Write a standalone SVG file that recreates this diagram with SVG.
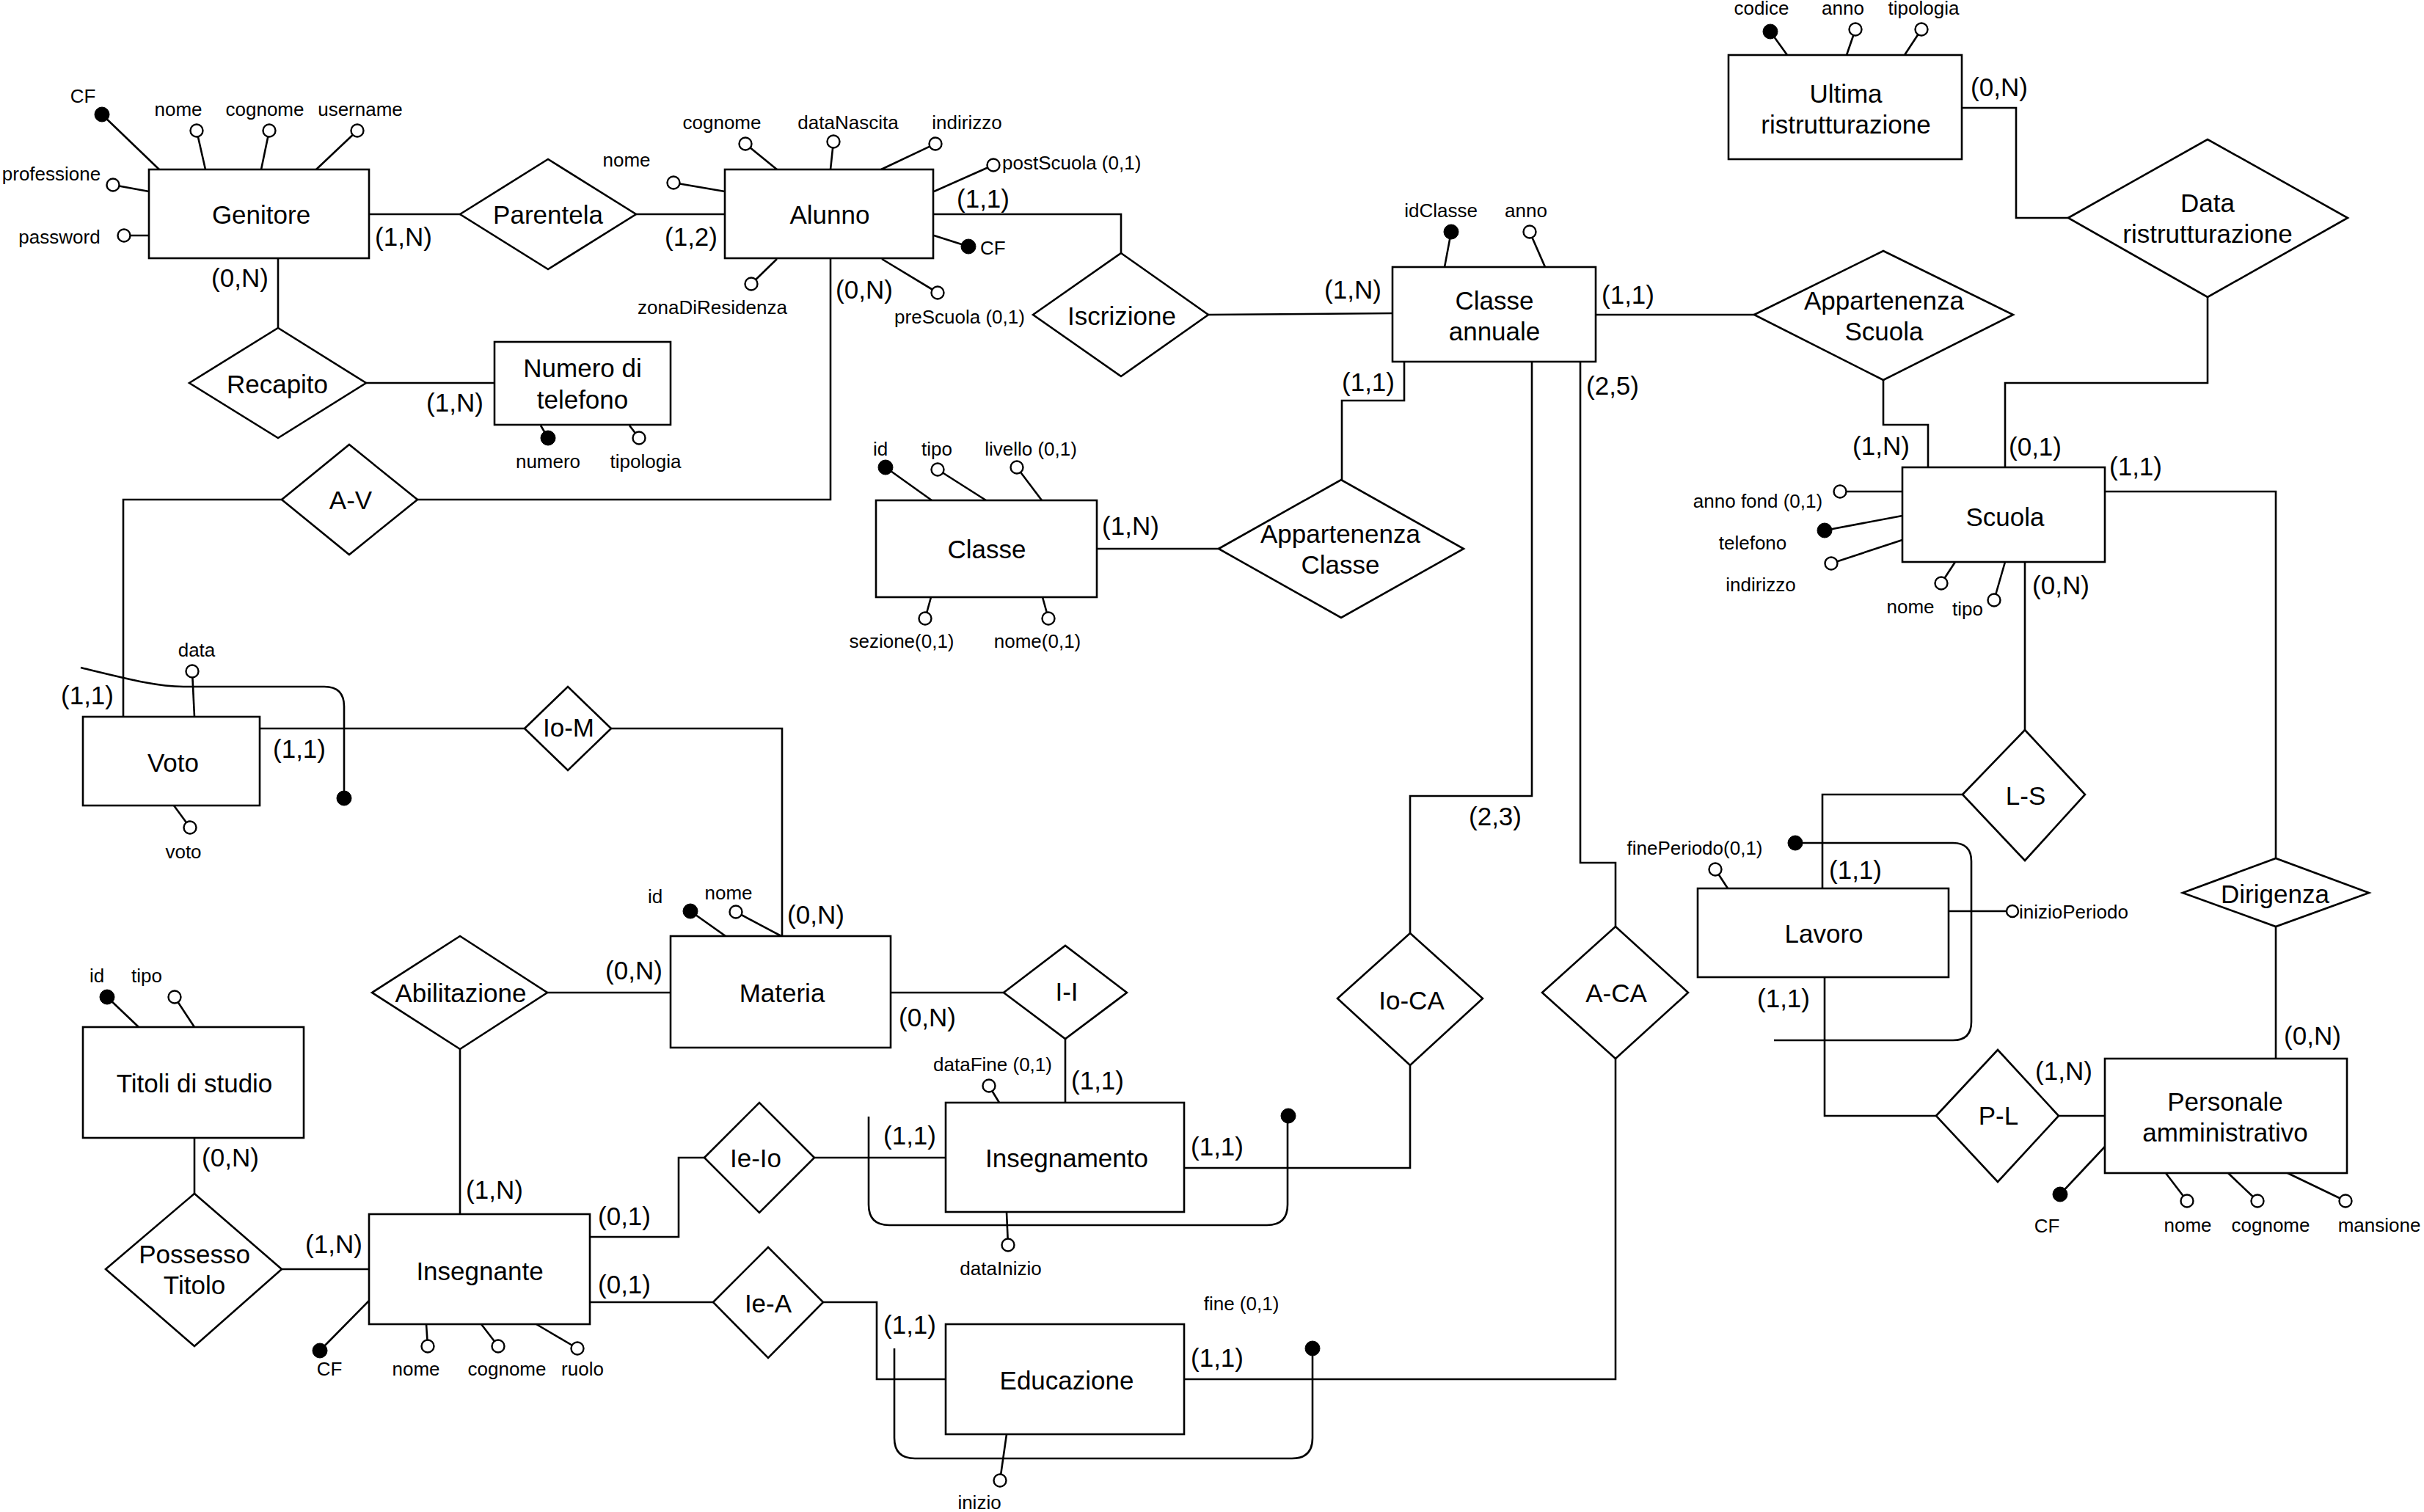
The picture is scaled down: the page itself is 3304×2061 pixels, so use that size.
<svg xmlns="http://www.w3.org/2000/svg" width="3304" height="2061" viewBox="0 0 3304 2061">
<style>
rect.e{fill:#fff;stroke:#000;stroke-width:2.6}
polygon.r{fill:#fff;stroke:#000;stroke-width:2.6}
.l{fill:none;stroke:#000;stroke-width:2.6}
.a{fill:#fff;stroke:#000;stroke-width:2.4}
.k{fill:#000;stroke:#000;stroke-width:1}
text{font-family:"Liberation Sans",Arial,Helvetica,sans-serif;fill:#000;dominant-baseline:central}
.t{font-size:35px;text-anchor:middle}
.s{font-size:26px;text-anchor:middle}
.st{font-size:26px;text-anchor:start}
</style>
<rect width="3304" height="2061" fill="#fff"/>

<g id="connectors">
<polyline class="l" points="503,292 627,292"/>
<polyline class="l" points="867,292 988,292"/>
<polyline class="l" points="379,352 379,447"/>
<polyline class="l" points="499,522 674,522"/>
<polyline class="l" points="1272,292 1528,292 1528,345"/>
<polyline class="l" points="1647,429 1898,427"/>
<polyline class="l" points="2175,429 2391,429"/>
<polyline class="l" points="2567,518 2567,579 2628,579 2628,637"/>
<polyline class="l" points="2674,147 2748,147 2748,297 2819,297"/>
<polyline class="l" points="3009,405 3009,522 2733,522 2733,637"/>
<polyline class="l" points="2869,670 3102,670 3102,1170"/>
<polyline class="l" points="3102,1263 3102,1443"/>
<polyline class="l" points="2760,766 2760,995"/>
<polyline class="l" points="2675,1083 2484,1083 2484,1211"/>
<polyline class="l" points="2487,1332 2487,1521 2639,1521"/>
<polyline class="l" points="2806,1521 2869,1521"/>
<polyline class="l" points="1914,493 1914,546 1829,546 1829,654"/>
<polyline class="l" points="1661,748 1495,748"/>
<polyline class="l" points="2088,493 2088,1085 1922,1085 1922,1272"/>
<polyline class="l" points="2154,493 2154,1176 2202,1176 2202,1263"/>
<polyline class="l" points="1922,1452 1922,1592 1614,1592"/>
<polyline class="l" points="2202,1443 2202,1880 1614,1880"/>
<polyline class="l" points="1132,352 1132,681 569,681"/>
<polyline class="l" points="384,681 168,681 168,977"/>
<polyline class="l" points="354,993 715,993"/>
<polyline class="l" points="833,993 1066,993 1066,1276"/>
<polyline class="l" points="746,1353 914,1353"/>
<polyline class="l" points="627,1430 627,1655"/>
<polyline class="l" points="1214,1353 1368,1353"/>
<polyline class="l" points="1452,1416 1452,1503"/>
<polyline class="l" points="265,1551 265,1627"/>
<polyline class="l" points="384,1730 503,1730"/>
<polyline class="l" points="804,1686 925,1686 925,1578 960,1578"/>
<polyline class="l" points="1110,1578 1289,1578"/>
<polyline class="l" points="804,1775 972,1775"/>
<polyline class="l" points="1122,1775 1195,1775 1195,1880 1289,1880"/>
</g>

<g id="cardinalities">
<text class="t" x="550" y="322">(1,N)</text>
<text class="t" x="327" y="378">(0,N)</text>
<text class="t" x="942" y="322">(1,2)</text>
<text class="t" x="1340" y="270">(1,1)</text>
<text class="t" x="1178" y="394">(0,N)</text>
<text class="t" x="620" y="548">(1,N)</text>
<text class="t" x="1844" y="394">(1,N)</text>
<text class="t" x="2219" y="401">(1,1)</text>
<text class="t" x="1865" y="520">(1,1)</text>
<text class="t" x="2198" y="525">(2,5)</text>
<text class="t" x="2725" y="118">(0,N)</text>
<text class="t" x="2564" y="607">(1,N)</text>
<text class="t" x="2774" y="608">(0,1)</text>
<text class="t" x="2911" y="635">(1,1)</text>
<text class="t" x="2809" y="797">(0,N)</text>
<text class="t" x="1541" y="716">(1,N)</text>
<text class="t" x="2038" y="1112">(2,3)</text>
<text class="t" x="119" y="947">(1,1)</text>
<text class="t" x="408" y="1020">(1,1)</text>
<text class="t" x="1112" y="1246">(0,N)</text>
<text class="t" x="864" y="1322">(0,N)</text>
<text class="t" x="1264" y="1386">(0,N)</text>
<text class="t" x="1496" y="1472">(1,1)</text>
<text class="t" x="2529" y="1185">(1,1)</text>
<text class="t" x="2431" y="1360">(1,1)</text>
<text class="t" x="2813" y="1459">(1,N)</text>
<text class="t" x="3152" y="1411">(0,N)</text>
<text class="t" x="314" y="1577">(0,N)</text>
<text class="t" x="674" y="1621">(1,N)</text>
<text class="t" x="455" y="1695">(1,N)</text>
<text class="t" x="851" y="1657">(0,1)</text>
<text class="t" x="851" y="1750">(0,1)</text>
<text class="t" x="1240" y="1547">(1,1)</text>
<text class="t" x="1659" y="1562">(1,1)</text>
<text class="t" x="1240" y="1805">(1,1)</text>
<text class="t" x="1659" y="1850">(1,1)</text>
</g>

<g id="Genitore">
<line class="l" x1="139" y1="156" x2="217" y2="231"/><circle class="k" cx="139" cy="156" r="10"/><text class="s" x="113" y="131">CF</text>
<line class="l" x1="268" y1="178" x2="280" y2="231"/><circle class="a" cx="268" cy="178" r="8.5"/><text class="s" x="243" y="149">nome</text>
<line class="l" x1="367" y1="178" x2="356" y2="231"/><circle class="a" cx="367" cy="178" r="8.5"/><text class="s" x="361" y="149">cognome</text>
<line class="l" x1="487" y1="178" x2="431" y2="231"/><circle class="a" cx="487" cy="178" r="8.5"/><text class="s" x="491" y="149">username</text>
<line class="l" x1="154" y1="252" x2="203" y2="261"/><circle class="a" cx="154" cy="252" r="8.5"/><text class="s" x="70" y="237">professione</text>
<line class="l" x1="169" y1="321" x2="203" y2="321"/><circle class="a" cx="169" cy="321" r="8.5"/><text class="s" x="81" y="323">password</text>
<rect class="e" x="203" y="231" width="300" height="121"/>
<text class="t" x="356" y="292">Genitore</text>
</g>

<g id="Parentela"><polygon class="r" points="627,292 747,217 867,292 747,367"/><text class="t" x="747" y="292">Parentela</text></g>

<g id="Alunno">
<line class="l" x1="918" y1="249" x2="988" y2="261"/><circle class="a" cx="918" cy="249" r="8.5"/><text class="s" x="854" y="218">nome</text>
<line class="l" x1="1016" y1="196" x2="1059" y2="231"/><circle class="a" cx="1016" cy="196" r="8.5"/><text class="s" x="984" y="167">cognome</text>
<line class="l" x1="1136" y1="193" x2="1132" y2="231"/><circle class="a" cx="1136" cy="193" r="8.5"/><text class="s" x="1156" y="167">dataNascita</text>
<line class="l" x1="1275" y1="196" x2="1201" y2="231"/><circle class="a" cx="1275" cy="196" r="8.5"/><text class="s" x="1318" y="167">indirizzo</text>
<line class="l" x1="1354" y1="225" x2="1273" y2="261"/><circle class="a" cx="1354" cy="225" r="8.5"/><text class="st" x="1366" y="222">postScuola (0,1)</text>
<line class="l" x1="1320" y1="336" x2="1273" y2="321"/><circle class="k" cx="1320" cy="336" r="10"/><text class="st" x="1336" y="338">CF</text>
<line class="l" x1="1024" y1="387" x2="1059" y2="353"/><circle class="a" cx="1024" cy="387" r="8.5"/><text class="s" x="971" y="419">zonaDiResidenza</text>
<line class="l" x1="1278" y1="399" x2="1202" y2="353"/><circle class="a" cx="1278" cy="399" r="8.5"/><text class="s" x="1308" y="432">preScuola (0,1)</text>
<rect class="e" x="988" y="231" width="284" height="121"/>
<text class="t" x="1131" y="292">Alunno</text>
</g>

<g id="Recapito"><polygon class="r" points="258,522 379,447 499,522 379,597"/><text class="t" x="378" y="523">Recapito</text></g>

<g id="NumeroDiTelefono">
<line class="l" x1="737" y1="580" x2="747" y2="597"/><circle class="k" cx="747" cy="597" r="10"/><text class="s" x="747" y="629">numero</text>
<line class="l" x1="858" y1="580" x2="871" y2="597"/><circle class="a" cx="871" cy="597" r="8.5"/><text class="s" x="880" y="629">tipologia</text>
<rect class="e" x="674" y="466" width="240" height="113"/>
<text class="t" x="794" y="501">Numero di</text>
<text class="t" x="794" y="544">telefono</text>
</g>

<g id="Iscrizione"><polygon class="r" points="1408,429 1528,345 1647,429 1528,513"/><text class="t" x="1529" y="430">Iscrizione</text></g>

<g id="ClasseAnnuale">
<line class="l" x1="1978" y1="316" x2="1969" y2="364"/><circle class="k" cx="1978" cy="316" r="10"/><text class="s" x="1964" y="287">idClasse</text>
<line class="l" x1="2085" y1="316" x2="2106" y2="364"/><circle class="a" cx="2085" cy="316" r="8.5"/><text class="s" x="2080" y="287">anno</text>
<rect class="e" x="1898" y="364" width="277" height="129"/>
<text class="t" x="2037" y="409">Classe</text>
<text class="t" x="2037" y="451">annuale</text>
</g>

<g id="UltimaRistrutturazione">
<line class="l" x1="2413" y1="43" x2="2436" y2="75"/><circle class="k" cx="2413" cy="43" r="10"/><text class="s" x="2401" y="11">codice</text>
<line class="l" x1="2529" y1="40" x2="2517" y2="75"/><circle class="a" cx="2529" cy="40" r="8.5"/><text class="s" x="2512" y="11">anno</text>
<line class="l" x1="2619" y1="40" x2="2596" y2="75"/><circle class="a" cx="2619" cy="40" r="8.5"/><text class="s" x="2622" y="11">tipologia</text>
<rect class="e" x="2356" y="75" width="318" height="142"/>
<text class="t" x="2516" y="127">Ultima</text>
<text class="t" x="2516" y="169">ristrutturazione</text>
</g>

<g id="DataRistrutturazione"><polygon class="r" points="2819,297 3009,190 3200,297 3009,405"/><text class="t" x="3009" y="276">Data</text><text class="t" x="3009" y="318">ristrutturazione</text></g>

<g id="AppartenenzaScuola"><polygon class="r" points="2391,429 2567,342 2744,429 2567,518"/><text class="t" x="2568" y="409">Appartenenza</text><text class="t" x="2568" y="451">Scuola</text></g>

<g id="Scuola">
<line class="l" x1="2508" y1="670" x2="2593" y2="670"/><circle class="a" cx="2508" cy="670" r="8.5"/><text class="s" x="2396" y="683">anno fond (0,1)</text>
<line class="l" x1="2487" y1="723" x2="2593" y2="703"/><circle class="k" cx="2487" cy="723" r="10"/><text class="s" x="2389" y="740">telefono</text>
<line class="l" x1="2496" y1="768" x2="2593" y2="736"/><circle class="a" cx="2496" cy="768" r="8.5"/><text class="s" x="2400" y="797">indirizzo</text>
<line class="l" x1="2646" y1="795" x2="2665" y2="766"/><circle class="a" cx="2646" cy="795" r="8.5"/><text class="s" x="2604" y="827">nome</text>
<line class="l" x1="2718" y1="818" x2="2733" y2="766"/><circle class="a" cx="2718" cy="818" r="8.5"/><text class="s" x="2682" y="830">tipo</text>
<rect class="e" x="2593" y="637" width="276" height="129"/>
<text class="t" x="2733" y="704">Scuola</text>
</g>

<g id="Classe">
<line class="l" x1="1207" y1="637" x2="1270" y2="682"/><circle class="k" cx="1207" cy="637" r="10"/><text class="s" x="1200" y="612">id</text>
<line class="l" x1="1278" y1="640" x2="1344" y2="682"/><circle class="a" cx="1278" cy="640" r="8.5"/><text class="s" x="1277" y="612">tipo</text>
<line class="l" x1="1386" y1="637" x2="1420" y2="682"/><circle class="a" cx="1386" cy="637" r="8.5"/><text class="s" x="1405" y="612">livello (0,1)</text>
<line class="l" x1="1269" y1="814" x2="1261" y2="843"/><circle class="a" cx="1261" cy="843" r="8.5"/><text class="s" x="1229" y="874">sezione(0,1)</text>
<line class="l" x1="1421" y1="814" x2="1429" y2="843"/><circle class="a" cx="1429" cy="843" r="8.5"/><text class="s" x="1414" y="874">nome(0,1)</text>
<rect class="e" x="1194" y="682" width="301" height="132"/>
<text class="t" x="1345" y="748">Classe</text>
</g>

<g id="AppartenenzaClasse"><polygon class="r" points="1661,748 1828,654 1995,748 1828,842"/><text class="t" x="1827" y="727">Appartenenza</text><text class="t" x="1827" y="769">Classe</text></g>

<g id="A-V"><polygon class="r" points="384,681 476,606 569,681 476,756"/><text class="t" x="478" y="681">A-V</text></g>

<g id="Voto">
<line class="l" x1="262" y1="915" x2="265" y2="977"/><circle class="a" cx="262" cy="915" r="8.5"/><text class="s" x="268" y="886">data</text>
<line class="l" x1="237" y1="1098" x2="259" y2="1128"/><circle class="a" cx="259" cy="1128" r="8.5"/><text class="s" x="250" y="1161">voto</text>
<path class="l" d="M110,910 C180,927 215,936 250,936 L442,936 Q469,936 469,963 L469,1080"/><circle class="k" cx="469" cy="1088" r="10"/>
<rect class="e" x="113" y="977" width="241" height="121"/>
<text class="t" x="236" y="1039">Voto</text>
</g>

<g id="Io-M"><polygon class="r" points="715,993 774,936 833,993 774,1050"/><text class="t" x="775" y="991">Io-M</text></g>

<g id="Materia">
<line class="l" x1="941" y1="1242" x2="989" y2="1276"/><circle class="k" cx="941" cy="1242" r="10"/><text class="s" x="893" y="1222">id</text>
<line class="l" x1="1003" y1="1243" x2="1065" y2="1276"/><circle class="a" cx="1003" cy="1243" r="8.5"/><text class="s" x="993" y="1217">nome</text>
<rect class="e" x="914" y="1276" width="300" height="152"/>
<text class="t" x="1066" y="1353">Materia</text>
</g>

<g id="Abilitazione"><polygon class="r" points="507,1353 627,1276 746,1353 627,1430"/><text class="t" x="628" y="1353">Abilitazione</text></g>

<g id="I-I"><polygon class="r" points="1368,1353 1452,1289 1536,1353 1452,1416"/><text class="t" x="1454" y="1351">I-I</text></g>

<g id="TitoliDiStudio">
<line class="l" x1="146" y1="1359" x2="189" y2="1400"/><circle class="k" cx="146" cy="1359" r="10"/><text class="s" x="132" y="1330">id</text>
<line class="l" x1="238" y1="1359" x2="265" y2="1400"/><circle class="a" cx="238" cy="1359" r="8.5"/><text class="s" x="200" y="1330">tipo</text>
<rect class="e" x="113" y="1400" width="301" height="151"/>
<text class="t" x="265" y="1476">Titoli di studio</text>
</g>

<g id="PossessoTitolo"><polygon class="r" points="144,1730 265,1627 384,1730 265,1835"/><text class="t" x="265" y="1709">Possesso</text><text class="t" x="265" y="1751">Titolo</text></g>

<g id="Insegnante">
<line class="l" x1="436" y1="1841" x2="503" y2="1773"/><circle class="k" cx="436" cy="1841" r="10"/><text class="s" x="449" y="1866">CF</text>
<line class="l" x1="581" y1="1805" x2="583" y2="1835"/><circle class="a" cx="583" cy="1835" r="8.5"/><text class="s" x="567" y="1866">nome</text>
<line class="l" x1="656" y1="1805" x2="679" y2="1835"/><circle class="a" cx="679" cy="1835" r="8.5"/><text class="s" x="691" y="1866">cognome</text>
<line class="l" x1="731" y1="1805" x2="787" y2="1838"/><circle class="a" cx="787" cy="1838" r="8.5"/><text class="s" x="794" y="1866">ruolo</text>
<rect class="e" x="503" y="1655" width="301" height="150"/>
<text class="t" x="654" y="1732">Insegnante</text>
</g>

<g id="Ie-Io"><polygon class="r" points="960,1578 1035,1503 1110,1578 1035,1653"/><text class="t" x="1030" y="1578">Ie-Io</text></g>

<g id="Ie-A"><polygon class="r" points="972,1775 1047,1700 1122,1775 1047,1851"/><text class="t" x="1047" y="1776">Ie-A</text></g>

<g id="Insegnamento">
<line class="l" x1="1348" y1="1480" x2="1362" y2="1503"/><circle class="a" cx="1348" cy="1480" r="8.5"/><text class="s" x="1353" y="1451">dataFine (0,1)</text>
<line class="l" x1="1372" y1="1652" x2="1374" y2="1697"/><circle class="a" cx="1374" cy="1697" r="8.5"/><text class="s" x="1364" y="1729">dataInizio</text>
<path class="l" d="M1184,1522 L1184,1642 Q1184,1670 1212,1670 L1727,1670 Q1755,1670 1755,1642 L1755,1530"/><circle class="k" cx="1756" cy="1521" r="10"/>
<rect class="e" x="1289" y="1503" width="325" height="149"/>
<text class="t" x="1454" y="1578">Insegnamento</text>
</g>

<g id="Educazione">
<line class="l" x1="1372" y1="1955" x2="1363" y2="2018"/><circle class="a" cx="1363" cy="2018" r="8.5"/><text class="s" x="1335" y="2048">inizio</text>
<text class="s" x="1692" y="1777">fine (0,1)</text>
<path class="l" d="M1219,1838 L1219,1960 Q1219,1988 1247,1988 L1761,1988 Q1789,1988 1789,1960 L1789,1846"/><circle class="k" cx="1789" cy="1838" r="10"/>
<rect class="e" x="1289" y="1805" width="325" height="150"/>
<text class="t" x="1454" y="1881">Educazione</text>
</g>

<g id="Io-CA"><polygon class="r" points="1823,1361 1922,1272 2021,1361 1922,1452"/><text class="t" x="1924" y="1363">Io-CA</text></g>

<g id="A-CA"><polygon class="r" points="2102,1353 2202,1263 2301,1353 2202,1443"/><text class="t" x="2203" y="1353">A-CA</text></g>

<g id="L-S"><polygon class="r" points="2675,1083 2760,995 2842,1083 2760,1173"/><text class="t" x="2761" y="1084">L-S</text></g>

<g id="Lavoro">
<line class="l" x1="2338" y1="1185" x2="2355" y2="1211"/><circle class="a" cx="2338" cy="1185" r="8.5"/><text class="s" x="2310" y="1156">finePeriodo(0,1)</text>
<line class="l" x1="2656" y1="1242" x2="2735" y2="1242"/><circle class="a" cx="2743" cy="1242" r="8"/><text class="st" x="2752" y="1243">inizioPeriodo</text>
<path class="l" d="M2447,1149 L2662,1149 Q2687,1149 2687,1174 L2687,1393 Q2687,1418 2662,1418 L2418,1418"/><circle class="k" cx="2447" cy="1149" r="10"/>
<rect class="e" x="2314" y="1211" width="342" height="121"/>
<text class="t" x="2486" y="1272">Lavoro</text>
</g>

<g id="Dirigenza"><polygon class="r" points="2975,1217 3102,1170 3229,1217 3102,1263"/><text class="t" x="3101" y="1218">Dirigenza</text></g>

<g id="P-L"><polygon class="r" points="2639,1521 2723,1431 2806,1521 2723,1611"/><text class="t" x="2724" y="1520">P-L</text></g>

<g id="PersonaleAmministrativo">
<line class="l" x1="2808" y1="1628" x2="2869" y2="1563"/><circle class="k" cx="2808" cy="1628" r="10"/><text class="s" x="2790" y="1671">CF</text>
<line class="l" x1="2952" y1="1599" x2="2981" y2="1637"/><circle class="a" cx="2981" cy="1637" r="8.5"/><text class="s" x="2982" y="1670">nome</text>
<line class="l" x1="3037" y1="1599" x2="3077" y2="1637"/><circle class="a" cx="3077" cy="1637" r="8.5"/><text class="s" x="3095" y="1670">cognome</text>
<line class="l" x1="3118" y1="1599" x2="3197" y2="1637"/><circle class="a" cx="3197" cy="1637" r="8.5"/><text class="s" x="3243" y="1670">mansione</text>
<rect class="e" x="2869" y="1443" width="330" height="156"/>
<text class="t" x="3033" y="1501">Personale</text>
<text class="t" x="3033" y="1543">amministrativo</text>
</g>
</svg>
